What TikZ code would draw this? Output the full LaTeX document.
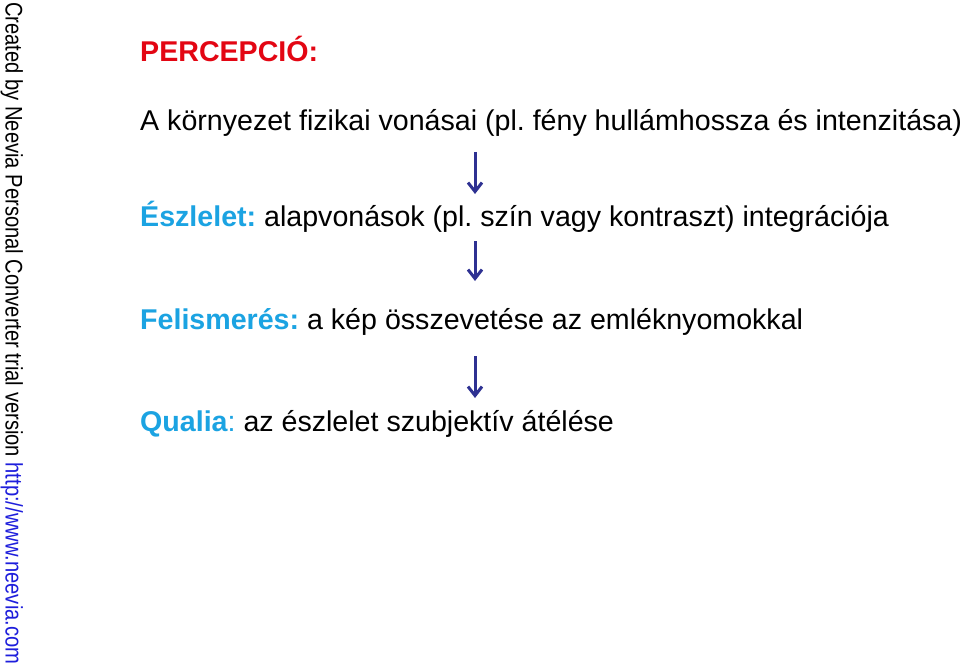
\documentclass[tikz,border=0pt]{standalone}
\usepackage{fontspec}
\setmainfont{Liberation Sans}
\newfontfamily\wmfont[FakeStretch=0.84]{Liberation Sans}
\usetikzlibrary{arrows.meta}
\frenchspacing
\definecolor{titlered}{RGB}{227,6,19}
\definecolor{labelcyan}{RGB}{27,163,226}
\definecolor{arrowblue}{RGB}{46,49,146}
\definecolor{wmblue}{RGB}{30,30,220}
\tikzset{
  line/.style={anchor=base west, inner sep=0pt, font=\fontsize{28.6}{34}\selectfont},
  flowarrow/.style={draw=arrowblue, line width=3pt,
    -{Straight Barb[length=9pt,width=14pt]}},
  watermark/.style={rotate=-90, anchor=base west, inner sep=0pt,
    font=\wmfont\fontsize{24}{28}\selectfont}
}
\begin{document}
\begin{tikzpicture}[x=1pt,y=-1pt]
\useasboundingbox (0,0) rectangle (960,663);
\fill[white] (0,0) rectangle (960,663);
\node[watermark] (wm) at (5.5,2) {Created by Neevia Personal Converter trial version \textcolor{wmblue}{http://www.neevia.com}};
\node[line, text=titlered, font=\fontsize{28.6}{34}\selectfont\bfseries] (title) at (140,62) {PERCEPCIÓ:};
\node[line] (l1) at (140,131) {A környezet fizikai vonásai (pl. fény hullámhossza és intenzitása)};
\node[line] (l2) at (140,226) {\textcolor{labelcyan}{\bfseries Észlelet:} alapvonások (pl. szín vagy kontraszt) integrációja};
\node[line] (l3) at (140,329) {\textcolor{labelcyan}{\bfseries Felismerés:} a kép összevetése az emléknyomokkal};
\node[line] (l4) at (140,431) {\textcolor{labelcyan}{{\bfseries Qualia}:} az észlelet szubjektív átélése};
\coordinate (a1s) at (475,152);
\coordinate (a1e) at (475,194);
\coordinate (a2s) at (475,241);
\coordinate (a2e) at (475,281);
\coordinate (a3s) at (475,356);
\coordinate (a3e) at (475,398);
\draw[flowarrow] (a1s) -- (a1e);
\draw[flowarrow] (a2s) -- (a2e);
\draw[flowarrow] (a3s) -- (a3e);
\end{tikzpicture}
\end{document}
